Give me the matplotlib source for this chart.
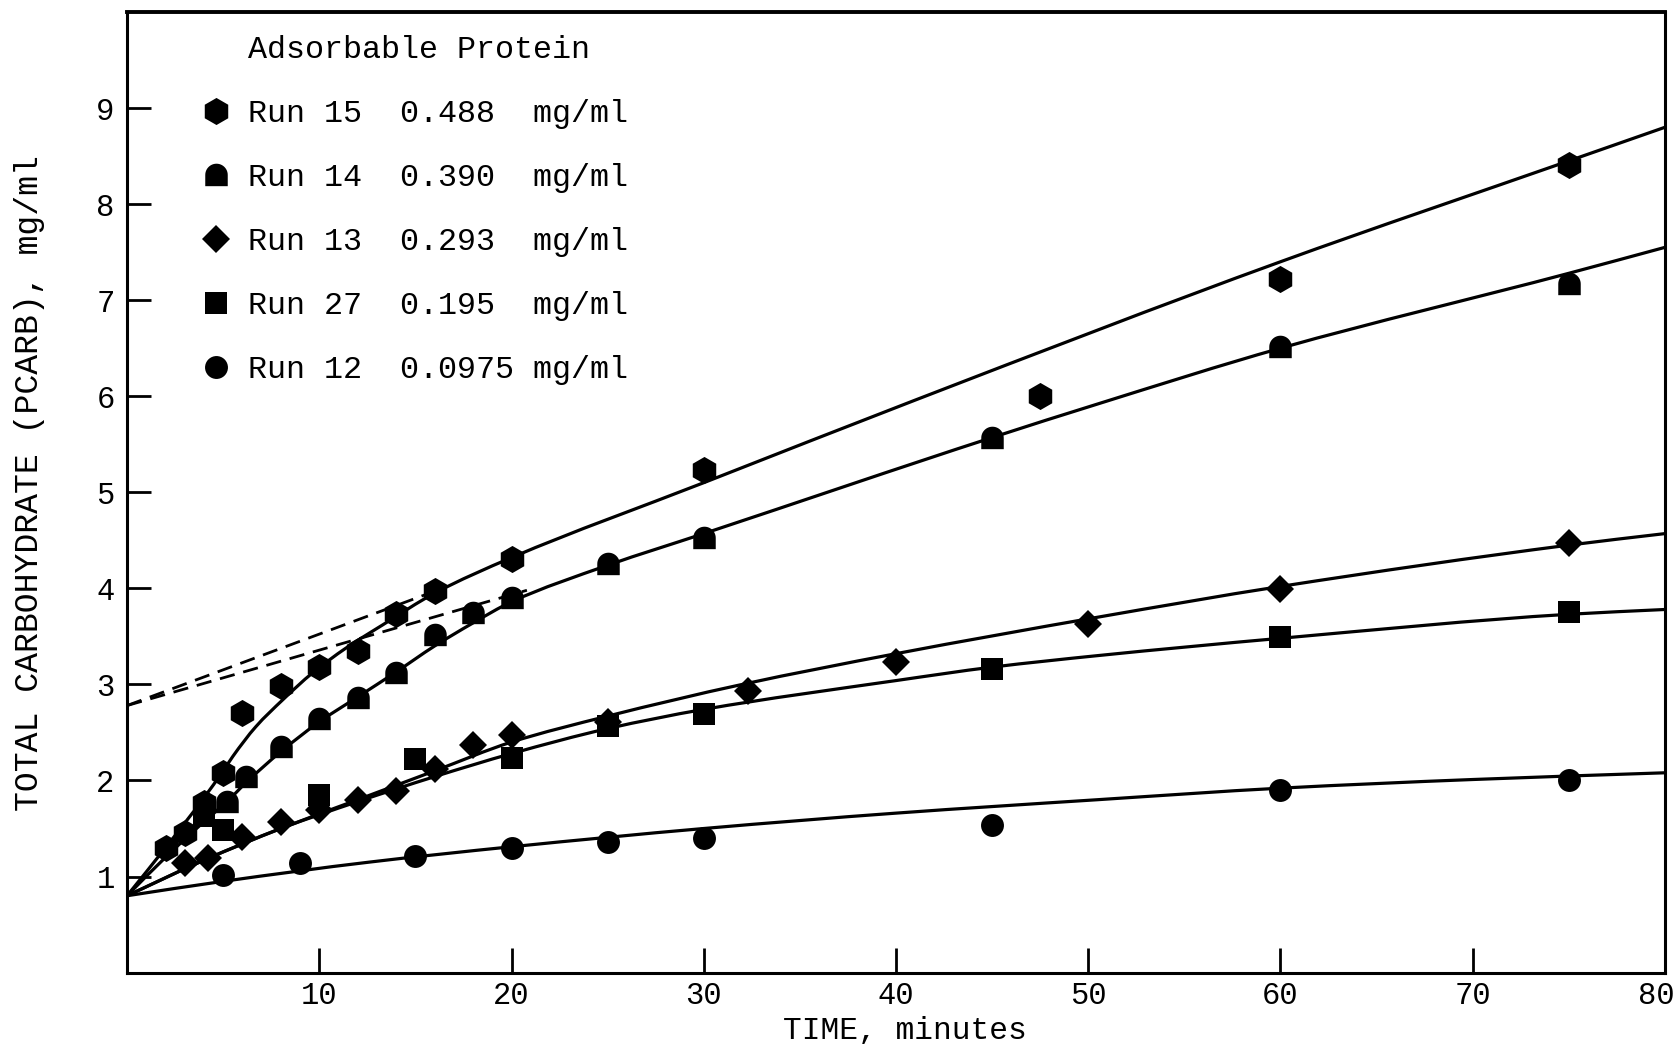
import numpy as np
import matplotlib
matplotlib.use("Agg")
import matplotlib.pyplot as plt
from matplotlib.path import Path
from matplotlib.patches import PathPatch
from matplotlib.lines import Line2D
from matplotlib.transforms import ScaledTranslation

plt.rcParams["font.family"] = ["Liberation Mono", "DejaVu Sans Mono"]

# ---- measured points: time (min) vs total carbohydrate (mg/ml) ----
run15_t = [2, 3, 4, 5, 6, 8, 10, 12, 14, 16, 20, 30, 47.5, 60, 75]
run15_c = [1.30, 1.45, 1.77, 2.08, 2.70, 2.98, 3.18, 3.35, 3.73, 3.97, 4.31, 5.23, 6.00, 7.22, 8.41]

run14_t = [5.2, 6.2, 8, 10, 12, 14, 16, 18, 20, 25, 30, 45, 60, 75]
run14_c = [1.78, 2.04, 2.35, 2.64, 2.86, 3.12, 3.51, 3.74, 3.90, 4.25, 4.52, 5.57, 6.51, 7.17]

run13_t = [3, 4.2, 6, 8, 10, 12, 14, 16, 18, 20, 25, 32.3, 40, 50, 60, 75]
run13_c = [1.14, 1.19, 1.41, 1.57, 1.69, 1.80, 1.89, 2.12, 2.37, 2.47, 2.61, 2.93, 3.23, 3.63, 3.99, 4.47]

run27_t = [4, 5, 10, 15, 20, 25, 30, 45, 60, 75]
run27_c = [1.63, 1.48, 1.85, 2.22, 2.23, 2.57, 2.69, 3.16, 3.49, 3.75]

run12_t = [5, 9, 15, 20, 25, 30, 45, 60, 75]
run12_c = [1.02, 1.14, 1.21, 1.30, 1.36, 1.40, 1.54, 1.90, 2.01]

# ---- smoothed fit curves (knots) ----
fit15_t = [0, 2, 4, 5, 5.5, 6.7, 8.1, 9.65, 11.4, 13.3, 16, 20, 30, 41, 60, 75, 80]
fit15_c = [0.8, 1.3, 1.82, 2.1, 2.25, 2.56, 2.84, 3.12, 3.38, 3.62, 3.95, 4.32, 5.10, 5.96, 7.40, 8.45, 8.80]

fit14_t = [0, 2, 4, 5.2, 6.2, 8, 10, 12, 14, 16, 18, 20, 25, 30, 45, 50.5, 60, 75, 80]
fit14_c = [0.8, 1.2, 1.57, 1.78, 1.98, 2.30, 2.61, 2.87, 3.13, 3.40, 3.64, 3.86, 4.24, 4.57, 5.57, 5.92, 6.50, 7.28, 7.55]

fit13_t = [0, 4, 8, 12, 16, 20, 25, 32, 40, 50.5, 60, 75, 80]
fit13_c = [0.8, 1.17, 1.50, 1.80, 2.10, 2.40, 2.67, 3.00, 3.32, 3.70, 4.02, 4.45, 4.57]

fit27_t = [0, 4, 8, 12, 16, 20, 25, 30, 40, 45, 50.5, 60, 75, 80]
fit27_c = [0.8, 1.17, 1.50, 1.78, 2.04, 2.28, 2.54, 2.74, 3.04, 3.18, 3.30, 3.48, 3.73, 3.78]

fit12_t = [0, 5, 12.6, 20, 30, 40, 50.5, 60, 70, 80]
fit12_c = [0.8, 0.95, 1.15, 1.31, 1.50, 1.66, 1.80, 1.92, 2.01, 2.08]

# linear extrapolations of the late-time slopes back to t = 0
dash15_t = [0, 16]
dash15_c = [2.78, 3.97]
dash14_t = [0, 20.8]
dash14_c = [2.78, 3.98]

legend_title = "Adsorbable Protein"
legend_labels = ["Run 15  0.488  mg/ml",
                 "Run 14  0.390  mg/ml",
                 "Run 13  0.293  mg/ml",
                 "Run 27  0.195  mg/ml",
                 "Run 12  0.0975 mg/ml"]

x_ticks = [10, 20, 30, 40, 50, 60, 70, 80]
y_ticks = [1, 2, 3, 4, 5, 6, 7, 8, 9]


def hermite_path(xs, ys):
    """Smooth monotone cubic through the knots, expressed as Bezier segments."""
    x = np.asarray(xs, float)
    y = np.asarray(ys, float)
    h = np.diff(x)
    d = np.diff(y) / h
    m = np.zeros_like(x)
    m[0], m[-1] = d[0], d[-1]
    for i in range(1, len(x) - 1):
        if d[i - 1] * d[i] <= 0:
            m[i] = 0.0
        else:
            w1 = 2 * h[i] + h[i - 1]
            w2 = h[i] + 2 * h[i - 1]
            m[i] = (w1 + w2) / (w1 / d[i - 1] + w2 / d[i])
    verts = [(x[0], y[0])]
    codes = [Path.MOVETO]
    for i in range(len(x) - 1):
        verts.append((x[i] + h[i] / 3, y[i] + m[i] * h[i] / 3))
        verts.append((x[i + 1] - h[i] / 3, y[i + 1] - m[i + 1] * h[i] / 3))
        verts.append((x[i + 1], y[i + 1]))
        codes += [Path.CURVE4] * 3
    return Path(verts, codes)


# dome-shaped marker: half disc on top of a block
theta = np.linspace(0, np.pi, 25)
dome_verts = np.vstack([
    np.column_stack([np.cos(theta), 0.05 + np.sin(theta)]),
    [[-1.0, -0.95], [1.0, -0.95], [1.0, 0.05]],
])
dome_marker = Path(dome_verts, closed=False)

fig = plt.figure(figsize=(16.74, 10.44), dpi=100)
ax = fig.add_axes([0.0759, 0.0684, 0.9187, 0.9201])

lw = 2.3
for ft, fc in [(fit15_t, fit15_c), (fit14_t, fit14_c), (fit13_t, fit13_c),
               (fit27_t, fit27_c), (fit12_t, fit12_c)]:
    ax.add_patch(PathPatch(hermite_path(ft, fc), fill=False, edgecolor="black",
                           lw=lw, capstyle="round", joinstyle="round"))

for dt, dc in [(dash15_t, dash15_c), (dash14_t, dash14_c)]:
    ax.plot(dt, dc, color="black", lw=2.0, dashes=(5.5, 3.2))

mk = dict(color="black", linestyle="none", markeredgewidth=0)
h15, = ax.plot(run15_t, run15_c, marker="h", markersize=19.5, **mk)
h14, = ax.plot(run14_t, run14_c, marker=dome_marker, markersize=17.0, **mk)
h13, = ax.plot(run13_t, run13_c, marker="D", markersize=14.3, **mk)
h27, = ax.plot(run27_t, run27_c, marker="s", markersize=16.0, **mk)
h12, = ax.plot(run12_t, run12_c, marker="o", markersize=16.5, **mk)

ax.set_xlim(0, 80)
ax.set_ylim(0, 10)
ax.set_xticks(x_ticks)
ax.set_xticklabels([str(v) for v in x_ticks])
ax.set_yticks(y_ticks)
ax.set_yticklabels([str(v) for v in y_ticks])
ax.tick_params(axis="both", direction="in", width=2.0, labelsize=22, color="black")
ax.tick_params(axis="x", length=18, pad=6)
ax.tick_params(axis="y", length=17, pad=9)
ax.tick_params(axis="both", which="both", top=False, right=False)
for s in ax.spines.values():
    s.set_linewidth(2.2)
ax.spines["top"].set_linewidth(2.8)

# keep the last time label inside the canvas
last = ax.get_xticklabels()[-1]
last.set_transform(last.get_transform() + ScaledTranslation(-9 / 100, 0, fig.dpi_scale_trans))

ax.set_xlabel("TIME, minutes", fontsize=22.5)
ax.set_ylabel("TOTAL CARBOHYDRATE (PCARB), mg/ml", fontsize=23.9)
ax.xaxis.set_label_coords(0.506, -0.045)
ax.yaxis.set_label_coords(-0.0535, 0.51)

blank = Line2D([], [], linestyle="none", marker=None)
leg = ax.legend([blank, h15, h14, h13, h27, h12],
                [legend_title] + legend_labels,
                loc="upper left", bbox_to_anchor=(0.0475, 0.976),
                frameon=False, fontsize=22.9, handlelength=1.0,
                handletextpad=0.50, labelspacing=1.07, borderpad=0,
                borderaxespad=0, numpoints=1)

fig.savefig("out.png", dpi=100, facecolor="white")
